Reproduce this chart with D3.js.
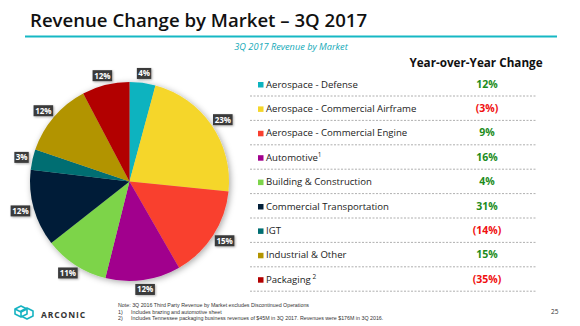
<!DOCTYPE html>
<html>
<head>
<meta charset="utf-8">
<script src="https://cdn.jsdelivr.net/npm/d3@7/dist/d3.min.js"></script>
<style>
  html, body { margin: 0; padding: 0; background: #fff; }
  svg { display: block; font-family: "Open Sans", "Noto Sans", sans-serif; }
</style>
</head>
<body>
<div id="chart"></div>
<script>
// markets, in pie order (clockwise from 12 o'clock)
const markets = ['Aerospace - Defense', 'Aerospace - Commercial Airframe', 'Aerospace - Commercial Engine',
  'Automotive', 'Building & Construction', 'Commercial Transportation', 'IGT', 'Industrial & Other', 'Packaging'];
const footRefs = ['', '', '', '1', '', '', '', '', '2'];
// slice sizes as drawn (% of revenue), and the labels printed on them
const shares = [4.2, 22.4, 15.1, 12.2, 10.5, 12.5, 3.3, 12.1, 7.7];
const shareLabels = ['4%', '23%', '15%', '12%', '11%', '12%', '3%', '12%', '12%'];
// year-over-year change, %
const yoy = [12, -3, 9, 16, 4, 31, -14, 15, -35];
const colors = ['#0db3bf', '#f5d629', '#f93f2f', '#a1008d', '#7dd44a', '#021f38', '#006e72', '#b29400', '#b20000'];

const width = 580, height = 326;
const svg = d3.select('#chart').append('svg')
  .attr('width', width).attr('height', height);

const defs = svg.append('defs');
const sh = defs.append('filter').attr('id', 'shadow')
  .attr('x', '-20%').attr('y', '-20%').attr('width', '140%').attr('height', '140%');
sh.append('feDropShadow').attr('dx', 1.5).attr('dy', 1.5).attr('stdDeviation', 3)
  .attr('flood-color', '#000').attr('flood-opacity', 0.35);
const sh2 = defs.append('filter').attr('id', 'lblshadow')
  .attr('x', '-30%').attr('y', '-30%').attr('width', '160%').attr('height', '160%');
sh2.append('feDropShadow').attr('dx', 1).attr('dy', 1).attr('stdDeviation', 0.8)
  .attr('flood-color', '#000').attr('flood-opacity', 0.3);

// title + rule
svg.append('text').attr('x', 30).attr('y', 27)
  .attr('font-size', 18.6).attr('font-weight', 600).attr('fill', '#111')
  .text('Revenue Change by Market – 3Q 2017');
svg.append('line').attr('x1', 25).attr('x2', 557).attr('y1', 36.5).attr('y2', 36.5)
  .attr('stroke', '#16b8c4').attr('stroke-width', 2);
svg.append('text').attr('x', 291).attr('y', 50).attr('text-anchor', 'middle')
  .attr('font-size', 9.2).attr('font-style', 'italic').attr('fill', '#13a9b8')
  .text('3Q 2017 Revenue by Market');

// pie
const cx = 129.5, cy = 181.5, r = 99.5;
const pie = d3.pie().sort(null).value(d => d);
const arcs = pie(shares);
const arc = d3.arc().innerRadius(0).outerRadius(r);
const pg = svg.append('g').attr('transform', `translate(${cx},${cy})`);
pg.append('g').attr('filter', 'url(#shadow)')
  .selectAll('path').data(arcs).join('path')
  .attr('d', arc)
  .attr('fill', (d, i) => colors[i]);

// outside-end data labels
const boxW = i => shareLabels[i].length * 5.2 + 4;
const lbl = pg.selectAll('g.lbl').data(arcs).join('g').attr('class', 'lbl')
  .attr('transform', (d, i) => {
    const a = (d.startAngle + d.endAngle) / 2;
    const w = boxW(i), h = 11;
    const s = Math.sin(a), c = Math.cos(a);
    const x = (r + 4) * s + (w / 2) * s;
    const y = -(r + 4) * c - (h / 2) * c;
    return `translate(${x},${y})`;
  });
lbl.append('rect')
  .attr('x', (d, i) => -boxW(i) / 2)
  .attr('y', -5.5)
  .attr('width', (d, i) => boxW(i))
  .attr('height', 11)
  .attr('fill', '#3b3b3b')
  .attr('filter', 'url(#lblshadow)');
lbl.append('text')
  .attr('text-anchor', 'middle').attr('y', 3)
  .attr('font-size', 8).attr('font-weight', 700).attr('fill', '#fff')
  .text((d, i) => shareLabels[i]);

// legend table
svg.append('text').attr('x', 476).attr('y', 67).attr('text-anchor', 'middle')
  .attr('font-size', 11.7).attr('font-weight', 700).attr('fill', '#111')
  .text('Year-over-Year Change');

const y = d3.scaleBand().domain(markets).range([74, 74 + 24.4 * markets.length]);
const rows = svg.append('g').selectAll('g').data(markets).join('g')
  .attr('transform', d => `translate(0,${y(d)})`);
rows.append('rect').attr('x', 258).attr('y', 8).attr('width', 5.5).attr('height', 5.5)
  .attr('fill', (d, i) => colors[i]);
const lt = rows.append('text').attr('x', 266).attr('y', 13.5)
  .attr('font-size', 9.6).attr('fill', '#222');
lt.append('tspan').text(d => d);
lt.append('tspan').attr('dy', -4).attr('font-size', 6.5)
  .text((d, i) => footRefs[i] ? (i === 8 ? ' ' : '') + footRefs[i] : '');
rows.append('text').attr('x', 487).attr('y', 13.5).attr('text-anchor', 'middle')
  .attr('font-size', 10.5).attr('font-weight', 700)
  .attr('fill', (d, i) => yoy[i] < 0 ? '#f01010' : '#1c8c1c')
  .text((d, i) => yoy[i] < 0 ? `(${-yoy[i]}%)` : `${yoy[i]}%`);
rows.append('line').attr('x1', 250).attr('x2', 536)
  .attr('y1', 22).attr('y2', 22)
  .attr('stroke', '#9a9a9a').attr('stroke-width', 0.8).attr('stroke-dasharray', '2,1.5');

// footnotes
const notes = svg.append('g').attr('font-size', 5.3).attr('fill', '#333')
  .attr('font-family', '"Liberation Sans", Arial, sans-serif');
notes.append('text').attr('x', 118).attr('y', 307)
  .text('Note: 3Q 2016 Third Party Revenue by Market excludes Discontinued Operations');
notes.append('text').attr('x', 118).attr('y', 313.5).text('1)');
notes.append('text').attr('x', 131).attr('y', 313.5).text('Includes brazing and automotive sheet');
notes.append('text').attr('x', 118).attr('y', 320).text('2)');
notes.append('text').attr('x', 131).attr('y', 320)
  .text('Includes Tennessee packaging business revenues of $45M in 3Q 2017. Revenues were $176M in 3Q 2016.');
svg.append('text').attr('x', 551).attr('y', 314).attr('font-size', 6.5).attr('fill', '#333').text('25');

// logo
const logo = svg.append('g').attr('transform', 'translate(13,305)')
  .attr('fill', 'none').attr('stroke', '#17b3c2').attr('stroke-width', 1.6).attr('stroke-linejoin', 'round');
logo.append('path').attr('d', 'M2,4 L8,1 L14,4 L14,9 L8,12 L2,9 Z');
logo.append('path').attr('d', 'M8,6 L14,3 L20,6 L20,11 L14,14 L8,11 Z');
logo.append('path').attr('d', 'M2,4 L8,7 L14,4');
svg.append('text').attr('x', 41).attr('y', 317.5)
  .attr('font-size', 8.5).attr('font-weight', 700).attr('letter-spacing', 0.9).attr('fill', '#333')
  .text('ARCONIC');
</script>
</body>
</html>
